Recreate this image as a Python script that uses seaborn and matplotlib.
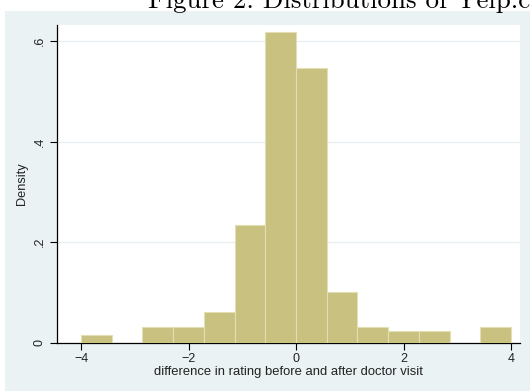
import numpy as np
import matplotlib
matplotlib.use("Agg")
import matplotlib.pyplot as plt
import seaborn as sns
from matplotlib.patches import Rectangle

# Histogram of the change in rating (after minus before the doctor visit)
bin_lo, bin_hi = -4.0, 4.0
n_bins = 14
counts = [2, 0, 4, 4, 8, 30, 79, 70, 13, 4, 3, 3, 0, 4]

x_ticks = [-4, -2, 0, 2, 4]
y_ticks = [0, 0.2, 0.4, 0.6]
y_tick_labels = ["0", ".2", ".4", ".6"]

x_label = "difference in rating before and after doctor visit"
y_label = "Density"
caption = "Figure 2: Distributions of Yelp.com"

edges = np.linspace(bin_lo, bin_hi, n_bins + 1)
centers = (edges[:-1] + edges[1:]) / 2

sns.set_style("white")
plt.rcParams["font.family"] = ["Liberation Sans", "DejaVu Sans"]

W, H = 530, 391
fig = plt.figure(figsize=(W / 100, H / 100), dpi=100, facecolor="white")

# graph region background
fig.patches.append(Rectangle((5 / W, 0), 1 - 5 / W, 1 - 11 / H,
                             transform=fig.transFigure, facecolor="#EAF2F3",
                             edgecolor="none", zorder=-10))

ax = fig.add_axes([57 / W, 1 - 343 / H, (520 - 57) / W, (343 - 25) / H])
ax.set_facecolor("white")

sns.histplot(x=centers, weights=counts, bins=n_bins, binrange=(bin_lo, bin_hi),
             stat="density", color="#C9C17F", alpha=1.0,
             edgecolor="#E3DFB4", linewidth=0.8, ax=ax, zorder=3)

ax.set_xlim(-4.447, 4.167)
ax.set_ylim(0, 0.6315)

ax.set_xticks(x_ticks)
ax.set_yticks(y_ticks)
ax.set_yticklabels(y_tick_labels, rotation=90, va="center")
for y in y_ticks[1:]:
    ax.axhline(y, color="#E6EEF0", linewidth=0.9, zorder=1)

for side in ["top", "right"]:
    ax.spines[side].set_visible(False)
for side in ["left", "bottom"]:
    ax.spines[side].set_color("black")
    ax.spines[side].set_linewidth(0.9)

ax.tick_params(axis="both", direction="out", length=5, width=0.8,
               color="black", labelsize=9, labelcolor="#222222",
               bottom=True, left=True)
ax.tick_params(axis="y", pad=3)
ax.tick_params(axis="x", pad=2)

ax.set_xlabel(x_label, fontsize=9.4, labelpad=1, color="#222222")
ax.set_ylabel(y_label, fontsize=9.2, labelpad=4, color="#222222")

fig.text(148 / W, 1 - 8 / H, caption, fontfamily="cmr10", fontsize=19.4,
         ha="left", va="baseline", color="black")

fig.savefig("out.png", dpi=100, facecolor="white")
